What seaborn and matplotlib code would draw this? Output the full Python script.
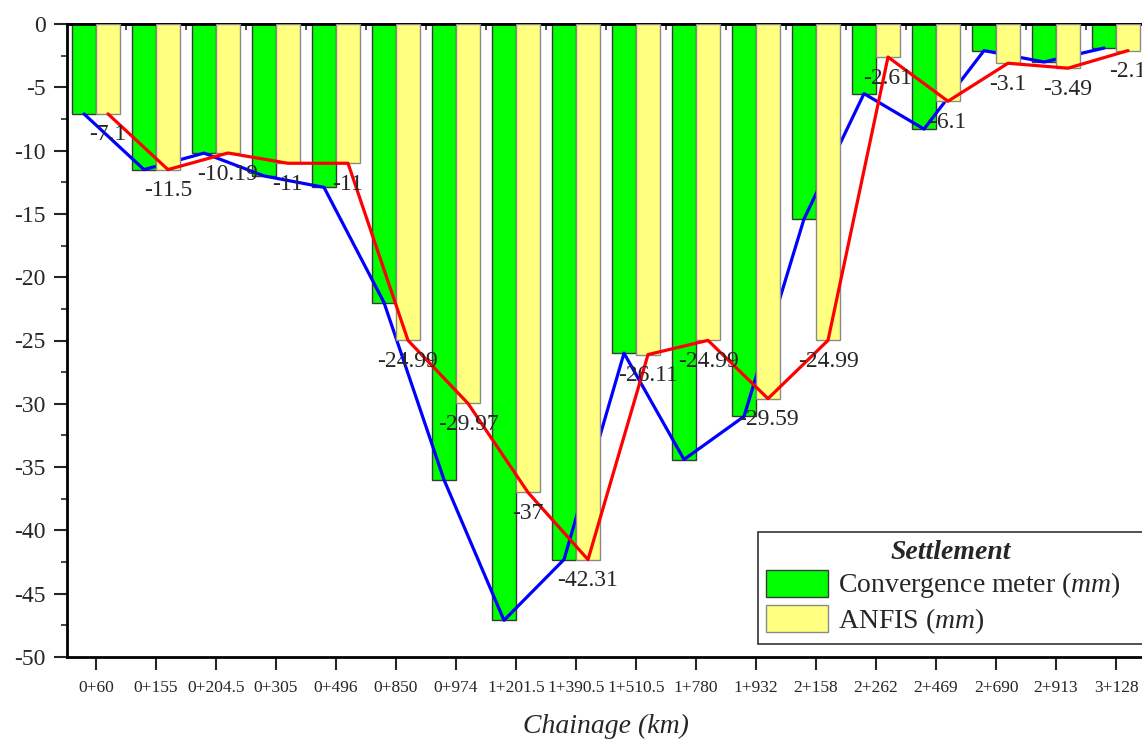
import numpy as np
import pandas as pd
import matplotlib
matplotlib.use("Agg")
import matplotlib.pyplot as plt
import seaborn as sns
from matplotlib.patches import Patch
from matplotlib.ticker import MultipleLocator, FixedLocator, NullFormatter

chainage = ["0+60", "0+155", "0+204.5", "0+305", "0+496", "0+850", "0+974",
            "1+201.5", "1+390.5", "1+510.5", "1+780", "1+932", "2+158",
            "2+262", "2+469", "2+690", "2+913", "3+128"]
convergence = [-7.1, -11.5, -10.2, -12.0, -12.9, -22.0, -36.0, -47.1, -42.3,
               -26.0, -34.4, -31.0, -15.4, -5.5, -8.3, -2.1, -3.0, -1.9]
anfis = [-7.1, -11.5, -10.19, -11, -11, -24.99, -29.97, -37, -42.31,
         -26.11, -24.99, -29.59, -24.99, -2.61, -6.1, -3.1, -3.49, -2.1]
anfis_labels = ["-7.1", "-11.5", "-10.19", "-11", "-11", "-24.99", "-29.97",
                "-37", "-42.31", "-26.11", "-24.99", "-29.59", "-24.99",
                "-2.61", "-6.1", "-3.1", "-3.49", "-2.1"]
series = ["Convergence meter", "ANFIS"]
legend_labels = ["Convergence meter ($mm$)", "ANFIS ($mm$)"]

GREEN = "#00FF00"
YELLOW = "#FFFF80"

sns.set_style("ticks")
plt.rcParams["font.family"] = ["Liberation Serif", "DejaVu Serif"]
plt.rcParams["mathtext.fontset"] = "custom"
plt.rcParams["mathtext.rm"] = "Liberation Serif"
plt.rcParams["mathtext.it"] = "Liberation Serif:italic"
plt.rcParams["axes.unicode_minus"] = False

df = pd.DataFrame({
    "Chainage": chainage * 2,
    "Value": convergence + anfis,
    "Series": [series[0]] * len(chainage) + [series[1]] * len(chainage),
})

fig = plt.figure(figsize=(11.42, 7.40), dpi=100)
ax = fig.add_axes([67 / 1142, 1 - 657 / 740, (1145 - 67) / 1142, (657 - 24) / 740])

sns.barplot(data=df, x="Chainage", y="Value", hue="Series", order=chainage,
            hue_order=series, palette=[GREEN, YELLOW], width=0.8,
            saturation=1, errorbar=None, legend=False, ax=ax)

for bar in ax.containers[0]:
    bar.set_edgecolor("#3a3a3a")
    bar.set_linewidth(1.0)
    bar.set_zorder(2)
for bar in ax.containers[1]:
    bar.set_edgecolor("#8a8a8a")
    bar.set_linewidth(1.0)
    bar.set_zorder(3)

idx = np.arange(len(chainage))
sns.lineplot(x=idx - 0.2, y=convergence, color="#0000FF", linewidth=2.3,
             ax=ax, zorder=2.5, sort=False)
sns.lineplot(x=idx + 0.2, y=anfis, color="#FF0000", linewidth=2.3,
             ax=ax, zorder=4, sort=False)

for i, (v, t) in enumerate(zip(anfis, anfis_labels)):
    ax.annotate(t, xy=(i + 0.2, v), xytext=(0, -21), textcoords="offset pixels",
                ha="center", va="center", fontsize=17, zorder=5,
                annotation_clip=False)

ax.set_xlim(-0.483, 17.483)
ax.set_ylim(-50, 0)

ax.yaxis.set_major_locator(MultipleLocator(5))
ax.yaxis.set_minor_locator(MultipleLocator(2.5))
ax.tick_params(axis="y", which="major", direction="out", length=9.4, width=1.5,
               labelsize=17, pad=6)
ax.tick_params(axis="y", which="minor", direction="out", length=4.5, width=1.2)
ax.set_xticks(idx)
ax.set_xticklabels(chainage)
ax.tick_params(axis="x", which="major", direction="out", length=9.4, width=1.5,
               labelsize=12.5, pad=7)

top = ax.secondary_xaxis("top")
top.set_xticks(idx)
top.xaxis.set_minor_locator(FixedLocator(idx[:-1] + 0.5))
top.xaxis.set_major_formatter(NullFormatter())
top.tick_params(axis="x", which="major", direction="in", length=8.6, width=1.5)
top.tick_params(axis="x", which="minor", direction="in", length=4, width=1.2)
top.spines["top"].set_linewidth(2)

for s in ["left", "bottom", "top"]:
    ax.spines[s].set_linewidth(2)
    ax.spines[s].set_color("black")
ax.spines["right"].set_visible(False)

ax.set_ylabel("")
ax.set_xlabel("")
fig.text(606 / 1142, 1 - 733 / 740, "Chainage (km)", fontsize=20,
         style="italic", ha="center", va="baseline")

handles = [Patch(facecolor=GREEN, edgecolor="#3a3a3a", linewidth=1.0),
           Patch(facecolor=YELLOW, edgecolor="#8a8a8a", linewidth=1.0)]
lx0, lx1, ly1 = 758 / 1142, 1144 / 1142, 1 - 532 / 740
leg = ax.legend(handles, legend_labels, title="Settlement",
                loc="upper left", bbox_to_anchor=(lx0, ly1 - 0.2, lx1 - lx0, 0.2),
                mode="expand",
                bbox_transform=fig.transFigure, fontsize=20,
                title_fontproperties={"weight": "bold", "style": "italic", "size": 20},
                frameon=True, fancybox=False, shadow=False, framealpha=1,
                edgecolor="#333333", borderpad=0.28, labelspacing=0.17,
                handlelength=2.25, handleheight=1.12, handletextpad=0.35,
                borderaxespad=0)
leg.get_frame().set_linewidth(1.2)
leg.set_zorder(10)

fig.savefig("out.png", dpi=100)
